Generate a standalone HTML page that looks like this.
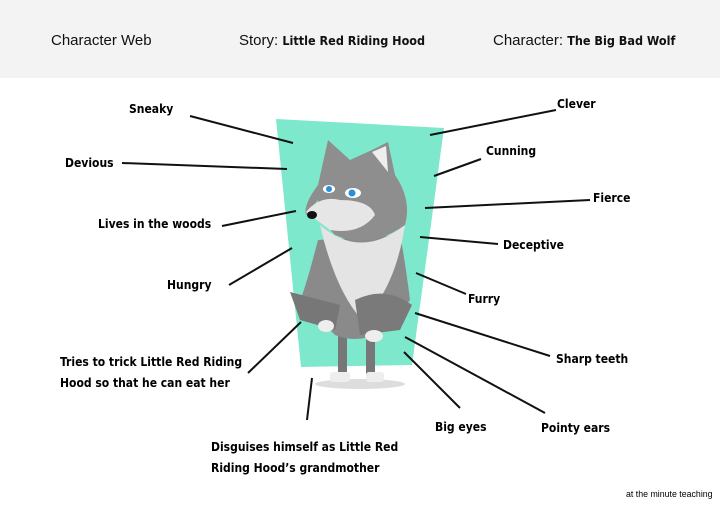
<!DOCTYPE html>
<html><head><style>
body{margin:0;width:720px;height:509px;position:relative;background:#fff;overflow:hidden;font-family:"DejaVu Sans Condensed","DejaVu Sans",sans-serif;}
.hd{position:absolute;left:0;top:0;width:720px;height:78px;background:#f3f3f3;}
.h{position:absolute;top:32px;font-family:"Liberation Sans",sans-serif;font-size:15px;color:#111;}
.h b{font-family:"DejaVu Sans Condensed",sans-serif;font-size:12.5px;}
.l{position:absolute;font-weight:bold;font-size:12px;color:#000;line-height:21px;white-space:nowrap;}
.ft{position:absolute;left:626px;top:489px;font-family:"Liberation Sans",sans-serif;font-size:8.8px;}
</style></head><body>
<div class="hd"></div>
<div class="h" style="left:51px">Character Web</div>
<div class="h" style="left:239px">Story: <b>Little Red Riding Hood</b></div>
<div class="h" style="left:493px">Character: <b>The Big Bad Wolf</b></div>
<svg width="720" height="509" style="position:absolute;left:0;top:0">
<polygon points="276,119 444,128 412,365 301,367" fill="#7de8cc"/>
<ellipse cx="360" cy="384" rx="45" ry="5" fill="#ddd"/>
<rect x="338" y="320" width="9" height="60" fill="#777"/>
<rect x="366" y="320" width="9" height="60" fill="#777"/>
<rect x="330" y="372" width="20" height="10" rx="3" fill="#eee"/>
<rect x="366" y="372" width="18" height="10" rx="3" fill="#eee"/>
<path d="M318,240 Q305,290 300,300 L335,335 Q360,345 385,330 L410,300 Q405,260 400,235 Z" fill="#8a8a8a"/>
<path d="M320,225 Q360,260 405,225 Q395,290 362,320 Q335,290 320,225 Z" fill="#e4e4e4"/>
<path d="M290,292 L340,305 L335,330 L300,320 Z" fill="#777"/>
<path d="M355,300 Q385,285 412,305 L400,330 L360,335 Z" fill="#7a7a7a"/>
<ellipse cx="326" cy="326" rx="8" ry="6" fill="#eee"/>
<ellipse cx="374" cy="336" rx="9" ry="6" fill="#eee"/>
<path d="M328,140 L350,160 L372,150 L388,142 L395,175 Q412,200 405,225 Q370,250 335,235 Q320,220 318,200 L306,215 Q303,205 318,185 Z" fill="#8e8e8e"/>
<path d="M372,152 L386,146 L388,172 Z" fill="#eee"/>
<path d="M306,212 Q320,195 340,200 Q370,200 375,215 Q360,235 330,230 Z" fill="#e6e6e6"/>
<ellipse cx="312" cy="215" rx="5" ry="4" fill="#111"/>
<ellipse cx="329" cy="189" rx="6" ry="4" fill="#fff"/><circle cx="329" cy="189" r="3" fill="#2a8fd6"/>
<ellipse cx="353" cy="193" rx="8" ry="5" fill="#fff"/><circle cx="352" cy="193" r="3.5" fill="#2a8fd6"/>
<g stroke="#111" stroke-width="2">
<line x1="190" y1="116" x2="293" y2="143"/>
<line x1="122" y1="163" x2="287" y2="169"/>
<line x1="222" y1="226" x2="296" y2="211"/>
<line x1="229" y1="285" x2="292" y2="248"/>
<line x1="248" y1="373" x2="301" y2="322"/>
<line x1="307" y1="420" x2="312" y2="378"/>
<line x1="556" y1="110" x2="430" y2="135"/>
<line x1="481" y1="159" x2="434" y2="176"/>
<line x1="590" y1="200" x2="425" y2="208"/>
<line x1="498" y1="244" x2="420" y2="237"/>
<line x1="466" y1="294" x2="416" y2="273"/>
<line x1="550" y1="356" x2="415" y2="313"/>
<line x1="545" y1="413" x2="405" y2="337"/>
<line x1="460" y1="408" x2="404" y2="352"/>
</g>
</svg>
<div class="l" style="left:129px;top:99px">Sneaky</div>
<div class="l" style="left:65px;top:153px">Devious</div>
<div class="l" style="left:98px;top:214px">Lives in the woods</div>
<div class="l" style="left:167px;top:275px">Hungry</div>
<div class="l" style="left:60px;top:352px">Tries to trick Little Red Riding<br>Hood so that he can eat her</div>
<div class="l" style="left:211px;top:437px">Disguises himself as Little Red<br>Riding Hood’s grandmother</div>
<div class="l" style="left:557px;top:94px">Clever</div>
<div class="l" style="left:486px;top:141px">Cunning</div>
<div class="l" style="left:593px;top:188px">Fierce</div>
<div class="l" style="left:503px;top:235px">Deceptive</div>
<div class="l" style="left:468px;top:289px">Furry</div>
<div class="l" style="left:556px;top:349px">Sharp teeth</div>
<div class="l" style="left:435px;top:417px">Big eyes</div>
<div class="l" style="left:541px;top:418px">Pointy ears</div>
<div class="ft">at the minute teaching</div>
</body></html>
